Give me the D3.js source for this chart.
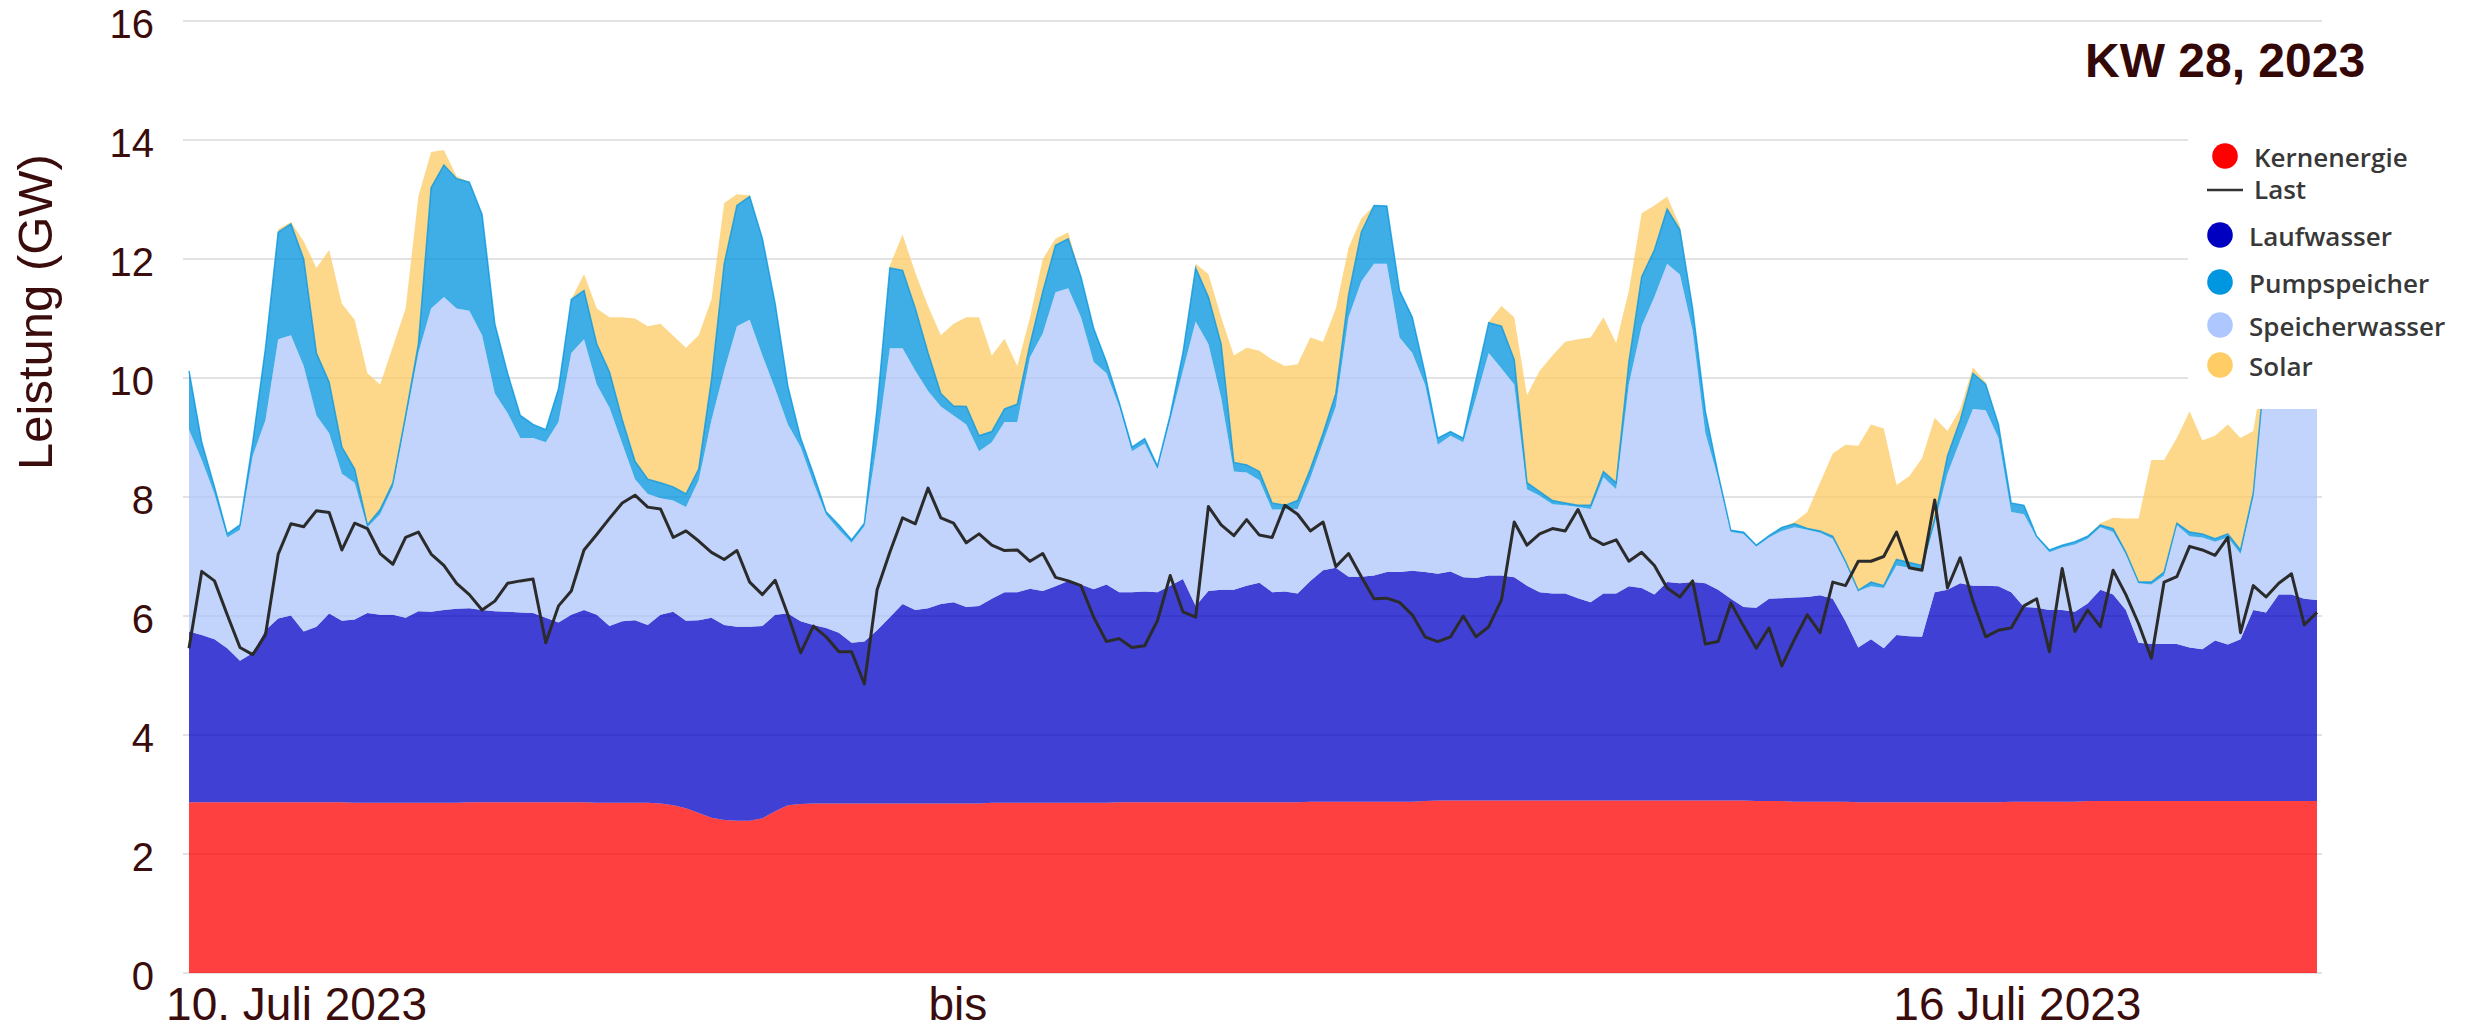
<!DOCTYPE html>
<html><head><meta charset="utf-8">
<script src="https://cdn.jsdelivr.net/npm/d3@7"></script>
<style>body{margin:0;background:#fff;}</style>
</head><body>
<svg id="chart" width="2471" height="1030"></svg>
<script>
// Hourly values, 10.–16. Juli 2023 (GW), one row per day
const kernenergie = [
  2.87,2.87,2.87,2.87,2.87,2.87,2.87,2.87,2.87,2.87,2.87,2.87,2.87,2.86,2.86,2.86,2.86,2.86,2.86,2.86,2.86,2.86,2.87,2.87,
  2.87,2.87,2.87,2.87,2.87,2.87,2.87,2.87,2.86,2.86,2.86,2.86,2.86,2.85,2.82,2.77,2.69,2.61,2.57,2.56,2.56,2.60,2.72,2.82,
  2.84,2.85,2.85,2.85,2.85,2.85,2.85,2.85,2.85,2.85,2.85,2.85,2.85,2.85,2.85,2.86,2.86,2.86,2.86,2.86,2.86,2.86,2.86,2.86,
  2.86,2.87,2.87,2.87,2.87,2.87,2.87,2.87,2.87,2.87,2.87,2.87,2.87,2.87,2.87,2.87,2.88,2.88,2.88,2.88,2.88,2.88,2.88,2.88,
  2.88,2.89,2.90,2.90,2.90,2.90,2.90,2.90,2.90,2.90,2.90,2.90,2.90,2.90,2.90,2.90,2.90,2.90,2.90,2.90,2.90,2.90,2.90,2.90,
  2.90,2.90,2.90,2.89,2.89,2.89,2.88,2.88,2.88,2.88,2.88,2.87,2.87,2.87,2.87,2.87,2.87,2.87,2.87,2.87,2.87,2.87,2.87,2.88,
  2.88,2.88,2.88,2.88,2.88,2.89,2.89,2.89,2.89,2.89,2.89,2.89,2.89,2.89,2.89,2.89,2.89,2.89,2.89,2.89,2.89,2.89,2.89,2.89
];
const laufwasser = [
  2.87,2.81,2.74,2.59,2.38,2.51,2.89,3.09,3.14,2.87,2.95,3.17,3.05,3.08,3.19,3.16,3.16,3.11,3.22,3.21,3.24,3.26,3.26,3.23,
  3.21,3.20,3.19,3.18,3.10,3.02,3.15,3.23,3.16,2.97,3.05,3.07,2.99,3.17,3.25,3.15,3.24,3.36,3.28,3.26,3.26,3.23,3.30,3.22,
  3.07,3.00,2.95,2.87,2.70,2.72,2.91,3.13,3.35,3.25,3.28,3.35,3.38,3.30,3.32,3.43,3.54,3.54,3.60,3.56,3.64,3.73,3.67,3.59,
  3.67,3.53,3.53,3.54,3.53,3.64,3.75,3.30,3.55,3.57,3.57,3.64,3.69,3.53,3.54,3.51,3.71,3.89,3.93,3.78,3.78,3.80,3.86,3.86,
  3.88,3.85,3.81,3.85,3.75,3.74,3.78,3.78,3.75,3.61,3.50,3.48,3.48,3.40,3.33,3.48,3.48,3.60,3.57,3.46,3.67,3.65,3.67,3.65,
  3.54,3.39,3.25,3.25,3.40,3.41,3.43,3.44,3.47,3.41,3.03,2.60,2.74,2.59,2.81,2.79,2.78,3.53,3.57,3.68,3.64,3.64,3.63,3.52,
  3.27,3.26,3.22,3.22,3.19,3.32,3.55,3.47,3.21,2.66,2.64,2.64,2.64,2.58,2.55,2.70,2.63,2.72,3.21,3.17,3.47,3.47,3.40,3.38
];
const speicherwasser = [
  3.39,2.94,2.44,1.86,2.20,3.31,3.53,4.69,4.71,4.46,3.55,3.03,2.47,2.30,1.44,1.69,2.15,3.32,4.34,5.10,5.26,5.05,5.00,4.62,
  3.66,3.34,2.93,2.94,2.95,3.37,4.40,4.55,3.87,3.67,2.99,2.37,2.20,1.96,1.87,1.91,2.35,3.32,4.27,5.05,5.16,4.55,3.80,3.18,
  2.93,2.39,1.90,1.73,1.68,1.94,3.14,4.52,4.30,4.02,3.65,3.32,3.14,3.07,2.60,2.63,2.86,2.86,3.89,4.33,4.94,4.92,4.49,3.82,
  3.55,3.12,2.37,2.49,2.07,2.78,3.50,4.78,4.15,3.23,1.99,1.90,1.72,1.39,1.38,1.42,1.73,2.15,2.71,4.36,4.96,5.24,5.18,3.94,
  3.66,3.15,2.17,2.28,2.27,3.03,3.74,3.48,3.24,1.62,1.62,1.50,1.48,1.53,1.57,1.95,1.75,3.40,4.40,5.00,5.35,5.19,4.23,2.52,
  1.88,1.12,1.23,1.03,1.03,1.13,1.18,1.13,1.05,1.01,0.98,0.95,0.89,1.01,1.17,1.15,1.12,1.16,1.95,2.40,2.97,2.95,2.49,1.35,
  1.56,1.18,0.97,1.05,1.13,1.09,1.05,1.05,0.94,1.00,1.00,1.15,2.00,1.87,1.88,1.66,1.80,1.43,1.90,4.24,4.94,5.34,5.61,5.73
];
const pumpspeicher = [
  0.99,0.30,0.12,0.06,0.08,0.23,1.21,1.80,1.87,1.80,1.05,0.86,0.45,0.23,0.04,0.08,0.07,0.08,0.15,2.03,2.22,2.18,2.16,2.03,
  1.17,0.67,0.38,0.23,0.21,0.56,0.90,0.82,0.68,0.60,0.40,0.30,0.25,0.26,0.23,0.22,0.19,0.68,1.80,2.03,2.07,1.96,1.43,0.64,
  0.15,0.15,0.05,0.08,0.05,0.05,0.60,1.35,1.31,1.05,0.64,0.22,0.16,0.30,0.26,0.18,0.22,0.30,0.22,0.70,0.79,0.83,0.68,0.56,
  0.19,0.07,0.07,0.08,0.05,0.08,0.30,0.90,0.79,0.90,0.15,0.13,0.15,0.11,0.07,0.14,0.15,0.15,0.22,0.38,0.83,0.98,0.97,0.79,
  0.60,0.19,0.11,0.07,0.07,0.30,0.51,0.71,0.42,0.11,0.07,0.06,0.04,0.03,0.06,0.10,0.11,0.37,0.83,0.79,0.92,0.75,0.37,0.37,
  0.07,0.03,0.03,0.02,0.03,0.06,0.06,0.02,0.03,0.04,0.03,0.01,0.07,0.04,0.10,0.09,0.08,0.08,0.30,0.34,0.60,0.43,0.23,0.15,
  0.15,0.02,0.04,0.04,0.05,0.04,0.04,0.06,0.03,0.02,0.04,0.06,0.03,0.07,0.06,0.05,0.06,0.07,0.07,0.05,0.05,0.05,0.05,0.05
];
const solar = [
  0,0,0,0,0,0,0,0.05,0.03,0.30,1.43,2.22,2.41,2.51,2.55,2.10,2.29,1.80,2.48,0.60,0.25,0.04,0,0,
  0,0,0,0,0,0,0,0.28,0.60,0.92,1.72,2.40,2.57,2.67,2.54,2.46,2.25,1.35,1.02,0.19,0.02,0,0,0,
  0,0,0,0,0,0,0,0.04,0.60,0.60,0.79,0.98,1.38,1.50,1.99,1.28,1.18,0.64,0.45,0.55,0.11,0.11,0,0,
  0,0,0,0,0,0,0,0.07,0.39,0.45,1.80,1.97,2.03,2.41,2.34,2.29,2.21,1.54,1.43,0.79,0.23,0,0,0,
  0,0,0,0,0,0,0.02,0.34,0.71,1.47,2.03,2.44,2.71,2.79,2.82,2.59,2.35,1.20,1.07,0.75,0.21,0.07,0,0,
  0,0,0,0,0,0,0.03,0.28,0.81,1.39,1.96,2.43,2.65,2.64,1.25,1.45,1.80,1.69,0.42,0.19,0.10,0.04,0,0,
  0,0,0,0,0,0,0.03,0.18,0.57,1.07,2.05,1.88,1.43,2.03,1.57,1.73,1.84,1.88,1.04,0.05,0,0,0,0
];
const last = [
  5.46,6.75,6.59,6.02,5.47,5.35,5.68,7.04,7.55,7.50,7.77,7.74,7.11,7.56,7.47,7.05,6.87,7.32,7.41,7.04,6.85,6.55,6.36,6.10,
  6.25,6.55,6.59,6.62,5.55,6.17,6.42,7.11,7.37,7.64,7.90,8.03,7.83,7.80,7.32,7.43,7.26,7.07,6.95,7.10,6.57,6.36,6.60,6.02,
  5.38,5.83,5.65,5.40,5.40,4.86,6.44,7.07,7.65,7.55,8.15,7.65,7.56,7.23,7.38,7.19,7.10,7.11,6.92,7.05,6.65,6.59,6.51,5.98,
  5.57,5.62,5.47,5.50,5.92,6.68,6.07,5.98,7.84,7.53,7.35,7.62,7.36,7.32,7.86,7.71,7.43,7.58,6.83,7.05,6.66,6.29,6.30,6.23,
  6.02,5.65,5.57,5.65,6.00,5.65,5.82,6.27,7.58,7.19,7.38,7.47,7.43,7.79,7.32,7.20,7.28,6.92,7.07,6.85,6.47,6.32,6.59,5.53,
  5.57,6.22,5.83,5.46,5.80,5.16,5.61,6.02,5.72,6.57,6.51,6.92,6.92,7.00,7.41,6.81,6.77,7.95,6.47,6.98,6.25,5.65,5.76,5.80,
  6.17,6.29,5.40,6.80,5.74,6.10,5.82,6.77,6.36,5.87,5.29,6.57,6.66,7.17,7.11,7.02,7.32,5.72,6.51,6.32,6.55,6.71,5.85,6.06
];
const yTicks = [0,2,4,6,8,10,12,14,16];
const xTickLabels = ["10. Juli 2023","bis","16 Juli 2023"];
const seriesNames = ["Kernenergie","Laufwasser","Speicherwasser","Pumpspeicher","Solar"];
const legendNames = ["Kernenergie","Last","Laufwasser","Pumpspeicher","Speicherwasser","Solar"];
const chartTitle = "KW 28, 2023";
const yTitle = "Leistung (GW)";

// ---- layout / styles
const fillColor = {Kernenergie:"#ff0000",Laufwasser:"#0000c6",Speicherwasser:"#aec6fa",Pumpspeicher:"#0093de",Solar:"#fccb63"};
const legendColor = {Kernenergie:"#ff0000",Laufwasser:"#0000c0",Pumpspeicher:"#0096e0",Speicherwasser:"#aec8ff",Solar:"#ffcc66"};
const textColor = "#3a0c0c";

const n = kernenergie.length;
const rows = d3.range(n).map(i => ({
  h: i,
  Kernenergie: kernenergie[i], Laufwasser: laufwasser[i], Speicherwasser: speicherwasser[i],
  Pumpspeicher: pumpspeicher[i], Solar: solar[i], Last: last[i]
}));

const svg = d3.select("#chart");
const x = d3.scaleLinear().domain([0, n - 1]).range([189, 2317]);
const y = d3.scaleLinear().domain([0, 16]).range([973, 21]);

// gridlines
svg.append("g").selectAll("line").data(yTicks).join("line")
  .attr("x1", 183).attr("x2", 2322)
  .attr("y1", d => y(d)).attr("y2", d => y(d))
  .attr("stroke", "#e3e3e3").attr("stroke-width", 2);

// stacked areas
const stacked = d3.stack().keys(seriesNames)(rows);
const area = d3.area().x(d => x(d.data.h)).y0(d => y(d[0])).y1(d => y(d[1]));
svg.append("g").selectAll("path").data(stacked).join("path")
  .attr("d", area)
  .attr("fill", s => fillColor[s.key]).attr("fill-opacity", 0.75);

// pump top edge line
const pumpLayer = stacked.find(s => s.key === "Pumpspeicher");
svg.append("path").datum(pumpLayer)
  .attr("d", d3.line().x(d => x(d.data.h)).y(d => y(d[1])))
  .attr("fill", "none").attr("stroke", fillColor.Pumpspeicher).attr("stroke-opacity", 0.75)
  .attr("stroke-width", 1.5);

// Last line
svg.append("path").datum(rows)
  .attr("d", d3.line().x(d => x(d.h)).y(d => y(d.Last)))
  .attr("fill", "none").attr("stroke", "#2b2b2b").attr("stroke-width", 3)
  .attr("stroke-linejoin", "round");

// y axis
const yAxis = svg.append("g").attr("transform", "translate(189,0)")
  .call(d3.axisLeft(y).tickValues(yTicks).tickSize(0).tickPadding(35));
yAxis.select(".domain").remove();
yAxis.selectAll("text").attr("font-family", "Liberation Sans, Arial, sans-serif")
  .attr("font-size", 40).attr("fill", textColor).attr("dy", "0.42em");

// x axis labels
const xTickHours = [8.4, 60.3, 143.45];
const xAxis = svg.append("g").attr("transform", "translate(0,973)")
  .call(d3.axisBottom(x).tickValues(xTickHours).tickSize(0).tickPadding(14)
    .tickFormat((d, i) => xTickLabels[i]));
xAxis.select(".domain").remove();
xAxis.selectAll("text").attr("font-family", "Liberation Sans, Arial, sans-serif")
  .attr("font-size", 46).attr("fill", textColor);

// y title
svg.append("text").attr("transform", "translate(52,312) rotate(-90)")
  .attr("text-anchor", "middle").attr("font-family", "Liberation Sans, Arial, sans-serif")
  .attr("font-size", 49).attr("fill", textColor).text(yTitle);

// legend box
svg.append("rect").attr("x", 2188).attr("y", 90).attr("width", 283).attr("height", 319).attr("fill", "#fff");

const legendBaselines = [167, 199, 246, 293, 336, 376];
const lg = svg.append("g");
legendNames.forEach((name, i) => {
  const b = legendBaselines[i];
  if (name === "Last") {
    lg.append("line").attr("x1", 2207).attr("x2", 2243).attr("y1", b - 9).attr("y2", b - 9)
      .attr("stroke", "#333").attr("stroke-width", 2.5);
  } else {
    lg.append("circle").attr("cx", i === 0 ? 2225 : 2220).attr("cy", b - 11)
      .attr("r", 12.8).attr("fill", legendColor[name]);
  }
  lg.append("text").attr("x", i < 2 ? 2254 : 2249).attr("y", b)
    .attr("font-family", "Open Sans, sans-serif").attr("font-weight", 600)
    .attr("font-size", 26).attr("fill", "#383838").text(name);
});

// title
svg.append("text").attr("x", 2085).attr("y", 77)
  .attr("font-family", "Liberation Sans, Arial, sans-serif").attr("font-weight", "bold")
  .attr("font-size", 48).attr("fill", "#350808").text(chartTitle);
</script>
</body></html>
